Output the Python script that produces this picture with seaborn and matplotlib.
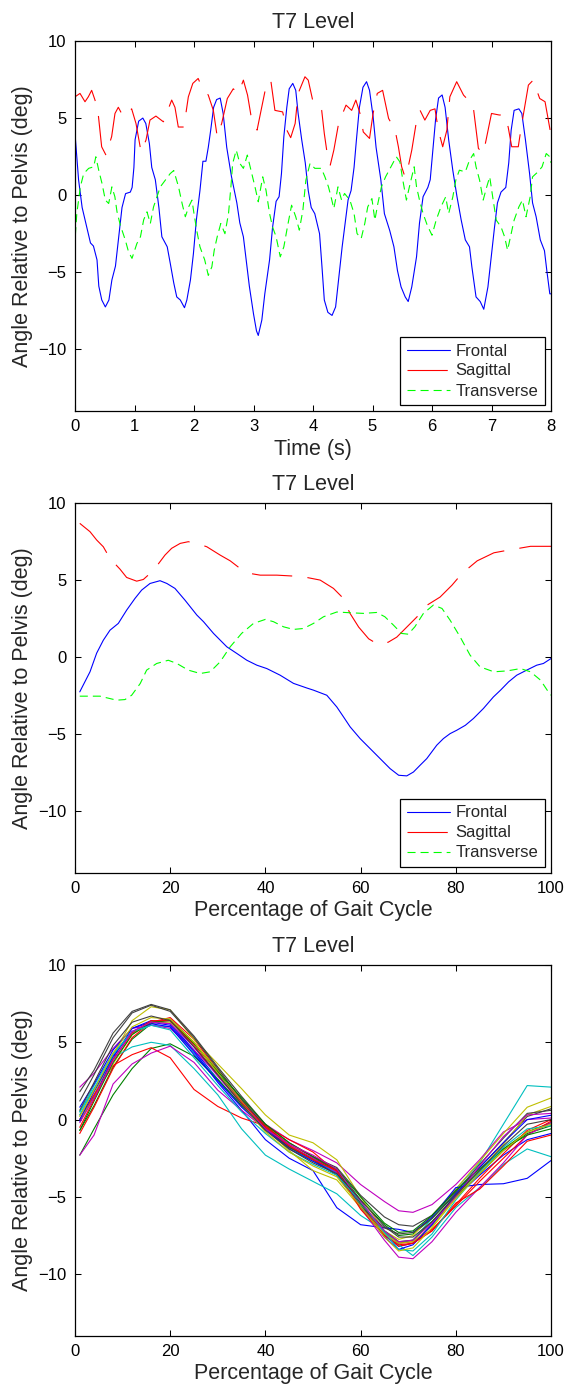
import numpy as np
import pandas as pd
import seaborn as sns
from matplotlib import pyplot as plt


## DADOS - GRAFICO 1 (tempo em s, angulo em graus)

frontal_tempo = [(0.0, 4.0), (0.06, 1.0), (0.12, -0.8), (0.2, -2.1), (0.26, -3.1), (0.31, -3.3), (0.37, -4.2),
                 (0.4, -5.9), (0.45, -6.8), (0.51, -7.25), (0.57, -6.8), (0.62, -5.5), (0.68, -4.6), (0.73, -2.9),
                 (0.79, -0.8), (0.85, 0.1), (0.93, 0.2), (0.96, 0.5), (0.99, 1.8), (1.01, 3.6), (1.07, 4.8),
                 (1.14, 5.0), (1.19, 4.65), (1.25, 3.35), (1.29, 1.8), (1.35, 1.0), (1.41, -0.8), (1.46, -2.7),
                 (1.55, -3.35), (1.6, -4.4), (1.66, -5.7), (1.71, -6.6), (1.77, -6.8), (1.84, -7.3), (1.88, -6.8),
                 (1.94, -5.5), (1.99, -3.8), (2.04, -1.6), (2.1, 0.3), (2.15, 2.2), (2.2, 2.2), (2.24, 3.1),
                 (2.28, 4.2), (2.33, 5.7), (2.38, 6.2), (2.44, 6.3), (2.49, 5.3), (2.55, 3.1), (2.63, 1.2),
                 (2.72, -0.5), (2.77, -1.8), (2.83, -2.7), (2.87, -4.0), (2.93, -5.9), (3.0, -7.7), (3.05, -8.8),
                 (3.08, -9.1), (3.14, -8.1), (3.19, -6.4), (3.27, -4.2), (3.32, -2.1), (3.38, -0.4), (3.43, -0.1),
                 (3.47, 1.4), (3.51, 3.8), (3.56, 5.7), (3.6, 6.9), (3.66, 7.25), (3.71, 6.8), (3.75, 5.3),
                 (3.81, 3.6), (3.87, 2.1), (3.92, 0.3), (3.97, -0.8), (4.03, -1.2), (4.11, -2.5), (4.15, -4.6),
                 (4.19, -6.8), (4.25, -7.6), (4.32, -7.8), (4.38, -7.25), (4.43, -5.5), (4.49, -3.35), (4.56, -1.2),
                 (4.59, -0.3), (4.64, 0.3), (4.69, 1.8), (4.73, 3.6), (4.78, 5.7), (4.84, 7.0), (4.9, 7.36),
                 (4.95, 6.8), (5.01, 5.1), (5.06, 3.1), (5.14, 1.0), (5.2, -1.2), (5.29, -2.3), (5.36, -3.35),
                 (5.42, -4.9), (5.48, -5.95), (5.55, -6.6), (5.6, -6.9), (5.66, -5.95), (5.74, -4.0), (5.79, -1.8),
                 (5.85, -0.1), (5.93, 0.5), (5.97, 1.0), (6.01, 2.7), (6.06, 4.9), (6.11, 6.3), (6.17, 6.5),
                 (6.22, 5.7), (6.28, 3.6), (6.35, 1.6), (6.42, -0.1), (6.49, -1.6), (6.56, -2.9), (6.63, -3.35),
                 (6.67, -4.65), (6.74, -6.6), (6.81, -6.9), (6.87, -7.4), (6.94, -5.95), (6.99, -4.2), (7.05, -2.1),
                 (7.1, -0.5), (7.16, 0.2), (7.24, 0.5), (7.29, 2.1), (7.33, 4.2), (7.38, 5.5), (7.46, 5.6),
                 (7.51, 5.3), (7.57, 3.6), (7.64, 1.4), (7.69, -0.5), (7.75, -1.4), (7.82, -2.9), (7.89, -3.6),
                 (7.93, -4.9), (7.98, -6.4), (8.0, -6.4)]

sagital_tempo = [(0.0, 6.38), (0.084, 6.6), (0.168, 6.06), (0.224, 6.38), (0.28, 6.8), (0.336, 6.17), (0.392, 5.2),
                 (0.448, 3.14), (0.52, 2.6), (0.616, 3.8), (0.672, 5.3), (0.728, 5.7), (0.812, 5.09), (0.952, 5.6),
                 (1.025, 4.65), (1.11, 2.81), (1.193, 3.57), (1.26, 4.87), (1.36, 5.13), (1.485, 4.76), (1.54, 5.3),
                 (1.625, 6.17), (1.68, 5.7), (1.736, 4.42), (1.83, 4.42), (1.905, 6.38), (1.98, 7.25), (2.07, 7.57),
                 (2.13, 7.03), (2.24, 6.49), (2.325, 5.5), (2.39, 3.8), (2.465, 4.65), (2.56, 6.27), (2.66, 6.9),
                 (2.745, 6.6), (2.83, 7.46), (2.9, 6.49), (2.956, 5.2), (3.06, 4.22), (3.14, 5.74), (3.22, 7.25),
                 (3.29, 7.46), (3.36, 5.5), (3.49, 5.4), (3.56, 4.22), (3.625, 3.73), (3.7, 4.65), (3.75, 6.6),
                 (3.865, 7.68), (3.92, 7.46), (4.0, 6.06), (4.09, 5.95), (4.146, 5.5), (4.19, 4.0), (4.23, 2.92),
                 (4.29, 1.95), (4.35, 2.92), (4.43, 4.65), (4.555, 5.84), (4.65, 5.5), (4.72, 6.17), (4.79, 5.3),
                 (4.845, 4.1), (4.95, 3.68), (5.01, 5.3), (5.08, 6.6), (5.17, 6.8), (5.27, 4.98), (5.38, 4.22),
                 (5.435, 3.14), (5.49, 1.84), (5.545, 1.19), (5.6, 1.84), (5.66, 2.92), (5.742, 4.87), (5.8, 5.5),
                 (5.88, 4.87), (5.97, 5.5), (6.05, 5.6), (6.106, 4.22), (6.18, 3.14), (6.25, 4.22), (6.3, 6.38),
                 (6.415, 7.36), (6.53, 6.49), (6.69, 5.84), (6.78, 3.03), (6.863, 2.71), (7.0, 5.3), (7.13, 5.2),
                 (7.22, 5.2), (7.28, 4.42), (7.34, 3.14), (7.45, 3.14), (7.5, 4.42), (7.62, 7.14), (7.7, 7.46),
                 (7.81, 6.27), (7.9, 6.06), (7.95, 4.98), (8.0, 3.9)]

transversal_tempo = [(0.006, -2.6), (0.03, -1.2), (0.09, 0.54), (0.146, 1.4), (0.23, 1.74), (0.314, 1.84), (0.35, 2.49),
                     (0.4, 1.6), (0.454, 0.76), (0.51, -0.32), (0.566, -0.54), (0.62, 0.54), (0.67, -0.1), (0.706, -1.08),
                     (0.762, -1.95), (0.846, -2.92), (0.9, -3.68), (0.958, -4.1), (1.04, -3.14), (1.1, -2.7), (1.154, -1.6),
                     (1.21, -1.08), (1.266, -1.84), (1.32, -0.76), (1.378, -0.1), (1.434, 0.54), (1.518, 0.97), (1.6, 1.4),
                     (1.66, 1.6), (1.74, 0.54), (1.8, -0.54), (1.854, -1.4), (1.91, -0.76), (1.966, -0.32), (2.0, -1.2),
                     (2.045, -2.27), (2.1, -3.35), (2.18, -4.2), (2.24, -5.2), (2.3, -4.65), (2.34, -3.57), (2.39, -2.7),
                     (2.45, -1.84), (2.52, -2.5), (2.58, -1.2), (2.62, 0.54), (2.65, 2.06), (2.71, 2.92), (2.77, 2.06),
                     (2.83, 1.74), (2.896, 2.6), (2.95, 1.74), (3.025, 0.54), (3.08, -0.43), (3.155, 1.19), (3.21, 0.32),
                     (3.27, -1.19), (3.32, -2.06), (3.38, -2.7), (3.45, -4.0), (3.51, -3.35), (3.57, -2.06), (3.64, -0.65),
                     (3.71, -1.4), (3.77, -2.27), (3.83, -0.97), (3.88, 0.97), (3.95, 2.06), (4.03, 1.74), (4.14, 1.74),
                     (4.2, 1.19), (4.26, 0.54), (4.31, -0.22), (4.35, -0.87), (4.42, 0.54), (4.48, -0.32), (4.53, 0.11),
                     (4.62, -0.32), (4.69, -1.19), (4.74, -2.49), (4.81, -2.81), (4.87, -1.84), (4.92, -0.76), (4.99, -0.22),
                     (5.04, -1.62), (5.09, -0.54), (5.15, 0.54), (5.22, 1.19), (5.31, 1.84), (5.4, 2.49), (5.46, 2.16),
                     (5.51, 0.97), (5.57, -0.32), (5.62, 0.54), (5.7, 1.84), (5.74, 0.54), (5.79, -0.32), (5.85, -1.19),
                     (5.92, -1.95), (6.0, -2.6), (6.07, -1.62), (6.15, -0.76), (6.23, -0.11), (6.28, -1.19), (6.35, -0.11),
                     (6.4, 0.97), (6.46, 1.62), (6.56, 1.51), (6.63, 2.27), (6.7, 2.7), (6.74, 1.84), (6.8, 0.97),
                     (6.86, -0.32), (6.92, 0.54), (6.97, 1.19), (7.02, -0.11), (7.08, -1.62), (7.16, -2.06), (7.22, -2.7),
                     (7.27, -3.57), (7.33, -2.49), (7.38, -1.62), (7.46, -0.76), (7.52, -0.32), (7.58, -1.4), (7.65, -0.11),
                     (7.69, 1.19), (7.78, 1.51), (7.85, 1.84), (7.92, 2.7), (7.98, 2.49), (8.0, 2.1)]


## DADOS - GRAFICO 2 (media do ciclo, % do ciclo)

frontal_ciclo = [(1, -2.25), (3.15, -0.95), (4.55, 0.26), (5.95, 1.1), (7.35, 1.75), (9.1, 2.19), (10.85, 3.05),
                 (12.6, 3.81), (14.0, 4.35), (15.76, 4.78), (17.86, 4.96), (19.3, 4.78), (21.0, 4.46), (23.1, 3.7),
                 (25.6, 2.73), (27.0, 2.3), (29.1, 1.54), (31.9, 0.67), (34.0, 0.24), (36.1, -0.2), (38.2, -0.52),
                 (40.3, -0.74), (43.1, -1.17), (45.9, -1.7), (48.7, -2.0), (50.1, -2.14), (52.9, -2.47), (55.0, -3.23),
                 (56.4, -3.87), (57.8, -4.52), (59.9, -5.28), (62.0, -5.93), (64.1, -6.58), (66.2, -7.23), (68.0, -7.66),
                 (69.7, -7.7), (71.1, -7.45), (72.5, -7.01), (73.9, -6.58), (76.0, -5.71), (77.4, -5.28), (78.8, -4.96),
                 (80.2, -4.74), (82.0, -4.42), (83.7, -3.98), (85.8, -3.33), (87.9, -2.58), (89.4, -2.14), (91.1, -1.6),
                 (92.8, -1.17), (94.9, -0.84), (97.0, -0.52), (98.4, -0.41), (100, -0.09)]

sagital_ciclo = [(1, 8.68), (3.15, 8.14), (4.55, 7.6), (5.95, 7.16), (7.35, 6.4), (9.45, 5.71), (10.85, 5.17),
                 (12.96, 4.93), (14.36, 5.04), (15.76, 5.43), (16.95, 5.82), (18.9, 6.62), (20.3, 7.06), (22.1, 7.38),
                 (23.8, 7.49), (25.6, 7.38), (27.7, 7.16), (30.5, 6.62), (32.6, 6.25), (34.7, 5.75), (36.8, 5.43),
                 (38.9, 5.32), (42.4, 5.32), (45.9, 5.26), (48.7, 5.17), (51.5, 5.0), (54.3, 4.46), (56.1, 3.9),
                 (57.8, 2.83), (59.6, 1.95), (61.7, 1.19), (63.7, 0.82), (65.8, 0.97), (67.6, 1.3), (69.7, 1.95),
                 (71.8, 2.6), (73.9, 3.36), (76.7, 3.9), (79.2, 4.67), (81.3, 5.43), (84.5, 6.25), (88.0, 6.77),
                 (90.8, 6.93), (92.9, 7.04), (95.7, 7.19), (100, 7.19)]

transversal_ciclo = [(1, -2.53), (5.25, -2.53), (8.75, -2.79), (10.5, -2.75), (11.9, -2.47), (13.7, -1.71),
                     (15.05, -0.84), (17.16, -0.41), (19.6, -0.2), (21.4, -0.41), (23.8, -0.84), (26.3, -1.06),
                     (28.4, -0.95), (30.5, -0.3), (32.6, 0.67), (35.0, 1.54), (37.5, 2.19), (40.0, 2.45), (41.7, 2.3),
                     (43.8, 1.97), (45.9, 1.8), (48.0, 1.86), (50.1, 2.19), (52.2, 2.62), (55.0, 2.93), (57.8, 2.88),
                     (60.6, 2.84), (63.4, 2.9), (65.1, 2.62), (66.9, 2.08), (68.6, 1.54), (70.0, 1.49), (71.4, 1.97),
                     (73.2, 2.84), (75.3, 3.38), (77.1, 3.16), (78.8, 2.4), (80.9, 1.32), (83.0, 0.13), (85.1, -0.63),
                     (88.0, -0.95), (90.8, -0.89), (93.6, -0.74), (95.7, -0.95), (97.8, -1.49), (99.2, -2.14), (100, -2.47)]


## DADOS - GRAFICO 3 (todos os ciclos, angulo frontal)

pct_ciclo = [1, 4, 8, 12, 16, 20, 25, 30, 35, 40, 45, 50, 55, 60, 65, 68, 71, 75, 80, 85, 90, 95, 100]

ciclos = [
    [-0.1, 1.5, 4.0, 5.9, 6.4, 6.2, 4.5, 2.6, 0.9, -0.6, -1.8, -2.6, -3.4, -5.6, -7.5, -8.2, -8.0, -6.8, -5.0, -3.6, -2.3, -1.3, -0.9],
    [-0.7, 0.9, 3.4, 5.2, 6.2, 6.5, 5.0, 3.0, 1.2, -0.4, -1.7, -2.5, -3.2, -5.2, -6.8, -7.5, -7.4, -6.4, -4.8, -3.3, -1.9, -0.8, -0.2],
    [-0.9, 0.8, 3.3, 5.3, 6.3, 6.6, 5.2, 3.2, 1.3, -0.4, -1.6, -2.4, -3.3, -5.5, -7.4, -8.2, -8.0, -7.2, -5.5, -3.8, -2.2, -0.7, 0.0],
    [0.5, 2.2, 4.3, 5.6, 6.1, 6.0, 4.3, 2.6, 0.9, -0.6, -1.8, -2.7, -3.4, -5.5, -7.3, -8.0, -7.8, -6.4, -4.5, -2.8, -0.3, 2.2, 2.1],
    [2.1, 3.0, 4.6, 5.9, 6.1, 5.9, 4.5, 2.9, 1.2, -0.3, -1.3, -2.0, -2.8, -4.2, -5.3, -5.9, -6.0, -5.5, -4.2, -2.6, -0.8, 0.0, 0.1],
    [0.3, 1.6, 4.2, 6.4, 7.3, 7.1, 5.2, 3.6, 2.0, 0.3, -1.0, -1.5, -2.6, -5.0, -7.2, -7.75, -7.5, -6.2, -4.5, -2.7, -0.9, 0.8, 1.4],
    [1.8, 3.2, 5.6, 7.0, 7.45, 7.1, 5.4, 3.4, 1.5, -0.3, -1.5, -2.4, -3.1, -4.9, -6.3, -6.8, -6.9, -6.2, -4.6, -3.1, -1.5, 0.2, 0.7],
    [0.8, 2.3, 4.5, 5.9, 6.3, 6.1, 4.4, 2.4, 0.6, -1.3, -2.5, -3.3, -5.7, -6.8, -7.0, -7.1, -7.3, -6.3, -4.4, -4.2, -4.15, -3.8, -2.65],
    [-2.3, -0.6, 1.6, 3.3, 4.6, 4.9, 4.1, 2.6, 0.9, -0.6, -1.8, -2.5, -3.3, -5.4, -7.2, -7.9, -7.8, -6.6, -5.0, -3.5, -2.0, -0.9, -0.4],
    [0.0, 1.6, 3.5, 4.2, 4.65, 4.0, 1.95, 0.85, 0.1, -0.4, -1.3, -2.1, -3.4, -5.6, -7.3, -8.0, -7.9, -7.1, -5.6, -4.0, -2.5, -1.0, -0.1],
    [0.3, 2.0, 4.0, 4.7, 5.0, 4.8, 3.3, 1.6, -0.6, -2.3, -3.2, -4.0, -4.8, -6.2, -7.2, -8.1, -8.8, -7.6, -5.7, -4.4, -2.9, -1.9, -2.4],
    [-2.3, -1.0, 2.3, 3.6, 4.3, 4.75, 3.7, 1.9, 0.6, -0.6, -1.7, -2.5, -3.4, -5.7, -7.8, -8.9, -9.0, -7.9, -6.0, -4.4, -2.8, -1.0, -0.2],
    [0.0, 1.4, 3.6, 5.5, 6.3, 6.3, 5.0, 3.2, 1.2, -0.6, -2.0, -3.3, -3.9, -5.7, -7.4, -8.0, -7.9, -6.9, -5.0, -3.3, -1.6, 0.3, 0.85],
    [1.2, 2.9, 5.3, 6.9, 7.4, 7.0, 5.3, 3.3, 1.3, -0.5, -1.8, -2.6, -3.6, -5.6, -7.0, -7.4, -7.3, -6.4, -4.7, -2.9, -1.2, 0.4, 0.6],
    [0.0, 1.8, 4.1, 5.7, 6.2, 6.0, 4.2, 2.5, 0.8, -0.6, -1.9, -2.7, -3.5, -5.6, -7.6, -8.4, -8.1, -6.8, -4.8, -3.1, -1.5, 0.0, 0.28],
    [-0.7, 1.2, 3.7, 5.5, 6.3, 6.4, 4.9, 3.1, 1.4, -0.3, -1.5, -2.4, -3.2, -5.0, -6.7, -7.3, -7.2, -6.2, -4.6, -3.2, -1.9, -1.0, -0.6],
    [-0.5, 1.3, 3.9, 5.6, 6.4, 6.4, 4.8, 2.9, 1.1, -0.5, -1.7, -2.6, -3.3, -5.8, -7.5, -8.1, -8.0, -7.2, -5.4, -4.5, -3.0, -1.4, -1.0],
    [0.5, 2.0, 4.2, 5.7, 6.1, 5.8, 4.0, 2.2, 0.5, -0.9, -2.1, -2.9, -3.6, -5.3, -7.3, -8.4, -8.5, -7.4, -5.2, -3.4, -1.8, -0.6, -0.4],
    [-0.2, 1.4, 3.8, 5.7, 6.3, 6.2, 4.7, 2.8, 1.0, -0.6, -1.6, -2.3, -3.2, -5.3, -7.2, -7.9, -7.8, -6.7, -5.0, -3.0, -1.1, 0.3, 0.4],
    [0.2, 1.9, 4.3, 6.0, 6.6, 6.5, 5.0, 3.0, 1.0, -0.8, -2.1, -3.0, -3.7, -5.6, -7.6, -8.5, -8.3, -7.0, -5.1, -3.5, -2.0, -0.8, -0.3],
    [0.6, 2.4, 4.8, 6.3, 6.7, 6.4, 4.7, 2.9, 1.0, -0.7, -1.9, -2.8, -3.5, -5.2, -6.9, -7.6, -7.6, -6.6, -4.9, -3.3, -1.7, -0.3, 0.0],
]

# ordem de cores padrao do matlab (b, g, r, c, m, y, k)
coresMatlab = [(0, 0, 1), (0, 0.5, 0), (1, 0, 0), (0, 0.75, 0.75), (0.75, 0, 0.75), (0.75, 0.75, 0), (0.25, 0.25, 0.25)]


## CONFIGURACOES INICIAIS

sns.set_style('ticks', {'xtick.direction': 'in', 'ytick.direction': 'in'})
plt.rcParams['font.family'] = ['Liberation Sans', 'DejaVu Sans']
plt.rcParams['lines.scale_dashes'] = False

TRACO_SAG = (0, (29, 11))
TRACO_TRA = (0, (5.8, 3.6))
LW = 0.8

fig = plt.figure(figsize=(5.67, 13.9), dpi=100)
ax1 = fig.add_axes([75/567, 1-411/1390, 476/567, 370/1390])
ax2 = fig.add_axes([75/567, 1-873/1390, 476/567, 370/1390])
ax3 = fig.add_axes([75/567, 1-1336/1390, 476/567, 371/1390])


def pares(lista):
    x = [p[0] for p in lista]
    y = [p[1] for p in lista]
    return x, y


def estiloEixo(ax, xmax, xticks, xlabel):
    ax.set_xlim(0, xmax)
    ax.set_ylim(-14, 10)
    ax.set_xticks(xticks)
    ax.set_yticks([-10, -5, 0, 5, 10])
    ax.tick_params(direction='in', top=True, right=True, length=4.3, width=0.75,
                   labelsize=12, colors='black')
    ax.tick_params(axis='x', pad=6)
    ax.tick_params(axis='y', pad=6)
    for s in ax.spines.values():
        s.set_visible(True)
        s.set_linewidth(0.9)
        s.set_color('black')
    ax.set_title('T7 Level', fontsize=15.5, pad=9)
    ax.set_xlabel(xlabel, fontsize=15.5, labelpad=3)
    ax.set_ylabel('Angle Relative to Pelvis (deg)', fontsize=15.5, labelpad=4)


def legenda(ax):
    leg = ax.legend(loc='lower right', fontsize=12, frameon=True, fancybox=False, framealpha=1,
                    edgecolor='black', borderaxespad=0.35, handlelength=2.6, handletextpad=0.35,
                    labelspacing=0.3, borderpad=0.4)
    leg.get_frame().set_linewidth(0.9)


##  GRAFICO 1 - SERIE TEMPORAL

x, y = pares(frontal_tempo)
sns.lineplot(x=x, y=y, ax=ax1, color='#0000ff', lw=LW, label='Frontal', estimator=None, sort=False)
x, y = pares(sagital_tempo)
sns.lineplot(x=x, y=y, ax=ax1, color='#ff0000', lw=LW, linestyle=TRACO_SAG, label='Sagittal', estimator=None, sort=False)
x, y = pares(transversal_tempo)
sns.lineplot(x=x, y=y, ax=ax1, color='#00ff00', lw=LW, linestyle=TRACO_TRA, label='Transverse', estimator=None, sort=False)
estiloEixo(ax1, 8, range(0, 9), 'Time (s)')
legenda(ax1)


##  GRAFICO 2 - MEDIA DO CICLO

x, y = pares(frontal_ciclo)
sns.lineplot(x=x, y=y, ax=ax2, color='#0000ff', lw=LW, label='Frontal', estimator=None, sort=False)
x, y = pares(sagital_ciclo)
sns.lineplot(x=x, y=y, ax=ax2, color='#ff0000', lw=LW, linestyle=TRACO_SAG, label='Sagittal', estimator=None, sort=False)
x, y = pares(transversal_ciclo)
sns.lineplot(x=x, y=y, ax=ax2, color='#00ff00', lw=LW, linestyle=TRACO_TRA, label='Transverse', estimator=None, sort=False)
estiloEixo(ax2, 100, range(0, 101, 20), 'Percentage of Gait Cycle')
legenda(ax2)


##  GRAFICO 3 - TODOS OS CICLOS

linhas = []
for i, c in enumerate(ciclos):
    for p, v in zip(pct_ciclo, c):
        linhas.append({'pct': p, 'ang': v, 'ciclo': 'c%02d' % i})
df_ciclos = pd.DataFrame(linhas)
paleta = {'c%02d' % i: coresMatlab[i % 7] for i in range(len(ciclos))}

sns.lineplot(data=df_ciclos, x='pct', y='ang', hue='ciclo', palette=paleta, lw=LW,
             estimator=None, sort=False, legend=False, ax=ax3)
estiloEixo(ax3, 100, range(0, 101, 20), 'Percentage of Gait Cycle')

plt.savefig('out.png', dpi=100)
